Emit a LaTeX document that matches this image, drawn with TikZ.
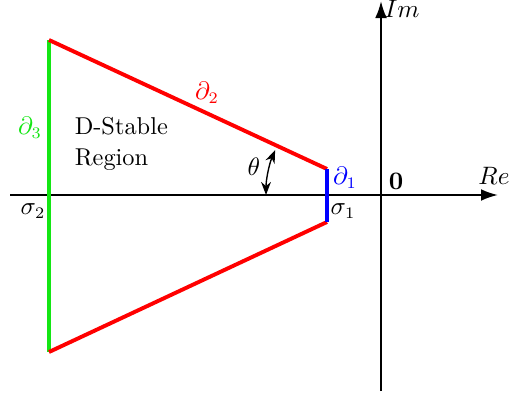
\documentclass[tikz,border=0pt]{standalone}
\usepackage{amsmath,amssymb}
\usepackage{tikz}
\usetikzlibrary{arrows.meta,positioning,calc}
\definecolor{bndred}{RGB}{255,0,0}
\definecolor{bndgreen}{RGB}{20,230,20}
\definecolor{bndblue}{RGB}{0,0,255}

\begin{document}
\begin{tikzpicture}[x=0.435pt, y=-0.435pt, every node/.style={font=\fontsize{10.6}{13.5}\selectfont, inner sep=1pt}]
    \useasboundingbox (0,0) rectangle (511,398);
    % axes
    \coordinate (O) at (381,195);
    \coordinate (xleft) at (10,195);
    \coordinate (xright) at (498,195);
    \coordinate (ybot) at (381,391);
    \coordinate (ytop) at (381,1);
    \draw[-{Latex[length=2.6mm,width=1.8mm]}, line width=0.9pt] (xleft) -- (xright);
    \draw[-{Latex[length=2.6mm,width=1.8mm]}, line width=0.9pt] (ybot) -- (ytop);
    % region corners
    \coordinate (s2top) at (49,40);
    \coordinate (s2bot) at (49,352);
    \coordinate (s1top) at (327,169);
    \coordinate (s1bot) at (327,222);
    \draw[bndgreen, line width=1.5pt] (s2top) -- (s2bot);
    \draw[bndred, line width=1.7pt] (s2top) -- (s1top);
    \draw[bndred, line width=1.7pt] (s1bot) -- (s2bot);
    \draw[bndblue, line width=1.7pt] (s1top) -- (s1bot);
    % angle
    \draw[{Stealth[length=2mm,width=1.5mm]}-{Stealth[length=2mm,width=1.5mm]}, line width=0.6pt] ($(O)+(180:115)$) arc[start angle=180, end angle=203, radius=115];
    % labels
    \node (theta) at (254,167) {$\theta$};
    \node[text=bndblue] (d1) at (345,178) {$\partial_1$};
    \node[text=bndred] (d2) at (207,93) {$\partial_2$};
    \node[text=bndgreen] (d3) at (30,128) {$\partial_3$};
    \node (sig1) at (343,211) {$\sigma_1$};
    \node (sig2) at (33,211) {$\sigma_2$};
    \node (zero) at (396,181) {$\mathbf{0}$};
    \node (re) at (494,176) {$Re$};
    \node (im) at (402,9) {$Im$};
    \node[align=left, anchor=west] (region) at (72,144) {D-Stable\\Region};
\end{tikzpicture}
\end{document}
